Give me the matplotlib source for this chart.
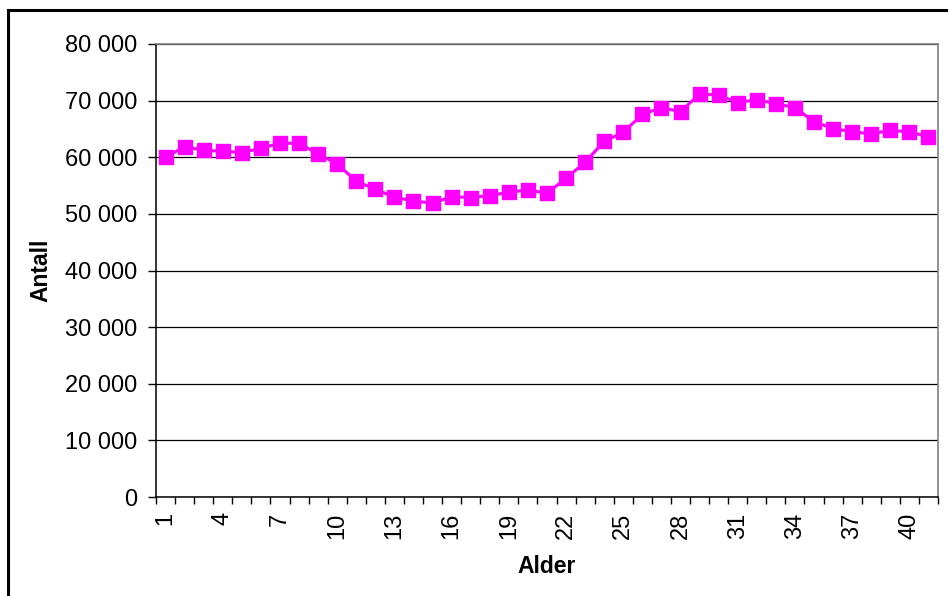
import numpy as np
import matplotlib
matplotlib.use("Agg")
import matplotlib.pyplot as plt
from matplotlib.patches import Rectangle
from matplotlib.ticker import FuncFormatter, FixedLocator, NullFormatter

plt.rcParams['font.family'] = ['Liberation Sans', 'DejaVu Sans']

# antall personer etter alder
alder = np.arange(1, 42)
antall = [60000, 61870, 61230, 61060, 60820, 61590, 62470, 62470, 60580, 58820,
          55760, 54350, 52940, 52290, 51880, 53050, 52880, 53230, 53820, 54230,
          53640, 56290, 59120, 62820, 64410, 67590, 68750, 68050, 71170, 70990,
          69640, 70170, 69460, 68750, 66280, 65050, 64520, 64110, 64760, 64460,
          63640]
x_labels = [1, 4, 7, 10, 13, 16, 19, 22, 25, 28, 31, 34, 37, 40]

fig = plt.figure(figsize=(9.48, 5.96), dpi=100)
ax = fig.add_axes([156 / 948, 1 - 497 / 596, (938 - 156) / 948, (497 - 44) / 596])

ax.plot(alder, antall, color='#FF00FF', lw=2.2, marker='s', ms=9.5,
        markeredgecolor='#FF00FF', zorder=3, clip_on=False)

ax.set_xlim(0.5, 41.5)
ax.set_ylim(0, 80000)
ax.set_yticks(np.arange(0, 80001, 10000))
ax.yaxis.set_major_formatter(FuncFormatter(lambda v, p: f"{int(v):,}".replace(',', ' ')))
ax.grid(axis='y', color='black', lw=0.9)
ax.set_axisbelow(True)

# tick marks between categories, labels at category centres
ax.xaxis.set_major_locator(FixedLocator(np.arange(0.5, 42, 1)))
ax.xaxis.set_major_formatter(NullFormatter())
ax.xaxis.set_minor_locator(FixedLocator(x_labels))
ax.set_xticklabels([str(v) for v in x_labels], minor=True, rotation=90)
ax.tick_params(axis='x', which='major', length=5.2, width=1, direction='out', color='black')
ax.tick_params(axis='x', which='minor', length=0, pad=11, labelsize=17)
ax.tick_params(axis='y', length=5.8, width=1, direction='out', pad=7.8, labelsize=17)

for s in ['left', 'bottom']:
    ax.spines[s].set_color('black')
    ax.spines[s].set_linewidth(1.1)
for s in ['top', 'right']:
    ax.spines[s].set_color('#808080')
    ax.spines[s].set_linewidth(1.2)

ax.set_xlabel('Alder', fontsize=16.5, fontweight='bold')
ax.set_ylabel('Antall', fontsize=16.5, fontweight='bold')
ax.xaxis.set_label_coords(0.5, (497 - 555) / 453)
ax.yaxis.set_label_coords((52 - 156) / 782, 0.5)

# chart frame
fig.patches.append(Rectangle((7.5 / 948, -0.1), 1.2, 1 - 9.5 / 596 + 0.1,
                             transform=fig.transFigure, fill=False,
                             edgecolor='black', lw=2.2))

fig.savefig('out.png', dpi=100)
